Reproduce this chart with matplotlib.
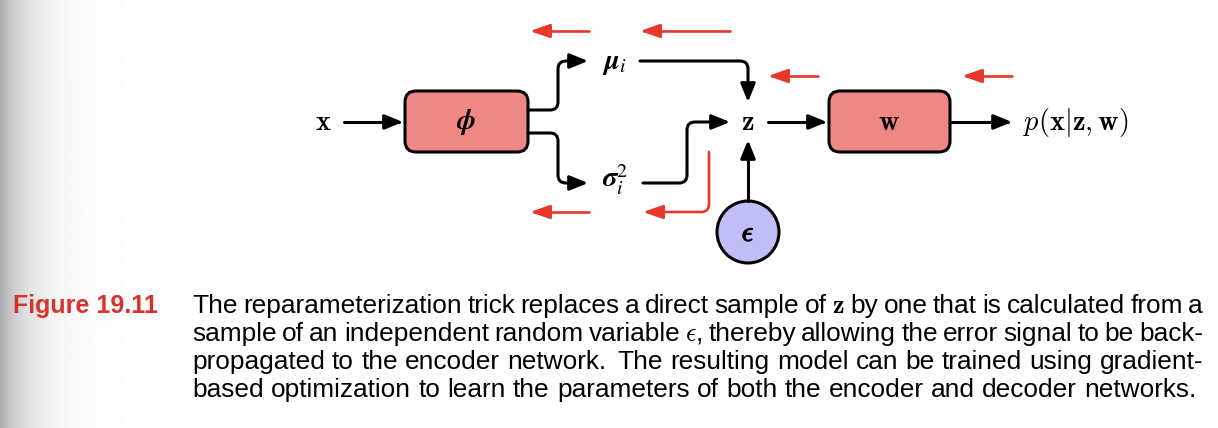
import matplotlib
matplotlib.use("Agg")
import matplotlib.pyplot as plt
import matplotlib.patheffects as pe
import numpy as np
from matplotlib.patches import FancyBboxPatch, Circle, FancyArrowPatch
from matplotlib.path import Path

W, H = 1218, 428

# labels of the diagram
input_label = r"$\mathbf{x}$"
encoder_label = r"$\mathbfit{\phi}$"
mean_label = r"$\mathbfit{\mu}_i$"
var_label = r"$\mathbfit{\sigma}_i^2$"
latent_label = r"$\mathbf{z}$"
noise_label = r"$\epsilon$"
decoder_label = r"$\mathbf{w}$"
output_label = r"$p(\mathbf{x}|\mathbf{z},\mathbf{w})$"

fig_label = "Figure 19.11"
caption_lines = [
    r"The reparameterization trick replaces a direct sample of $\mathbf{z}$ by one that is calculated from a",
    r"sample of an independent random variable $\epsilon$, thereby allowing the error signal to be back-",
    r"propagated to the encoder network.  The resulting model can be trained using gradient-",
    r"based optimization to learn the parameters of both the encoder and decoder networks.",
]

BOX_FILL = "#ef8884"
CIRCLE_FILL = "#bfbff7"
RED = "#e8382b"
CAP_RED = "#d9342b"
LW = 2.2
RED_LW = 1.9


def rounded(points, r=8):
    verts = [points[0]]
    codes = [Path.MOVETO]
    for i in range(1, len(points) - 1):
        p0, p1, p2 = (np.array(p, float) for p in points[i - 1:i + 2])
        d1 = (p1 - p0) / np.linalg.norm(p1 - p0)
        d2 = (p2 - p1) / np.linalg.norm(p2 - p1)
        verts += [p1 - d1 * r, p1, p1 + d2 * r]
        codes += [Path.LINETO, Path.CURVE3, Path.CURVE3]
    verts.append(points[-1])
    codes.append(Path.LINETO)
    return Path(verts, codes)


def arrow(ax, points, color="black", lw=LW, hl=1.1, hw=0.45, r=8):
    a = FancyArrowPatch(path=rounded(points, r),
                        arrowstyle=f"-|>,head_length={hl},head_width={hw}",
                        mutation_scale=10, color=color, lw=lw, zorder=3)
    ax.add_patch(a)


def box(ax, x0, y0, x1, y1):
    ax.add_patch(FancyBboxPatch((x0, y0), x1 - x0, y1 - y0,
                                boxstyle="round,pad=0,rounding_size=11",
                                fc=BOX_FILL, ec="black", lw=LW, zorder=2))


fig = plt.figure(figsize=(W / 100, H / 100), dpi=100)
ax = fig.add_axes([0, 0, 1, 1])

# page shadow on the left edge
xs = np.arange(130)
shade = 1 - 0.32 * np.exp(-xs / 28.0)
ax.imshow(shade[None, :], extent=[0, 130, H, 0], cmap="gray", vmin=0, vmax=1,
          aspect="auto", zorder=0, interpolation="bilinear")

ax.set_xlim(0, W)
ax.set_ylim(H, 0)
ax.axis("off")

mfs = 20.5
ax.text(323, 122, input_label, fontsize=mfs, ha="center", va="center", math_fontfamily="cm")
box(ax, 405, 91, 528, 152)
ax.text(466, 122, encoder_label, fontsize=mfs, ha="center", va="center", math_fontfamily="stix")
ax.text(614, 63, mean_label, fontsize=mfs, ha="center", va="center", math_fontfamily="stix")
ax.text(615, 180, var_label, fontsize=mfs, ha="center", va="center", math_fontfamily="stix")
ax.text(748, 122, latent_label, fontsize=mfs, ha="center", va="center", math_fontfamily="cm")
ax.add_patch(Circle((748, 232), 31, fc=CIRCLE_FILL, ec="black", lw=LW, zorder=2))
ax.text(748, 233, noise_label, fontsize=mfs, ha="center", va="center", math_fontfamily="cm",
        path_effects=[pe.withStroke(linewidth=0.9, foreground="black")])
box(ax, 829, 91, 950, 152)
ax.text(889, 122, decoder_label, fontsize=mfs, ha="center", va="center", math_fontfamily="cm")
ax.text(1023, 122, output_label, fontsize=mfs, ha="left", va="center", math_fontfamily="cm")

# forward connections
arrow(ax, [(344, 122), (403, 122)])
arrow(ax, [(528, 110), (558, 110), (558, 61), (588, 61)])
arrow(ax, [(528, 133), (558, 133), (558, 183), (588, 183)])
arrow(ax, [(640, 61), (748, 61), (748, 102)])
arrow(ax, [(643, 183), (687, 183), (687, 122), (730, 122)])
arrow(ax, [(748, 201), (748, 140)])
arrow(ax, [(768, 122), (827, 122)])
arrow(ax, [(950, 122), (1012, 122)])

# backward error signals
for pts in ([(589, 31), (530, 31)], [(730, 31), (640, 31)],
            [(818, 76), (768, 76)], [(1012, 76), (962, 76)],
            [(589, 212), (530, 212)], [(709, 152), (709, 212), (643, 212)]):
    arrow(ax, pts, color=RED, lw=RED_LW, hl=1.2, hw=0.42)

# caption
ax.text(13, 313, fig_label, fontsize=18, fontweight="bold", color=CAP_RED,
        family="Liberation Sans", ha="left", va="baseline")

cfs = 18.9
fig.canvas.draw()
renderer = fig.canvas.get_renderer()
left, right = 192, 1203
baselines = [313, 341, 369, 397]
space = 0.278 * cfs * 100 / 72
for i, line in enumerate(caption_lines):
    words = line.split()
    texts = [ax.text(0, baselines[i], w, fontsize=cfs, family="Liberation Sans",
                     math_fontfamily="cm", ha="left", va="baseline") for w in words]
    widths = [t.get_window_extent(renderer).width for t in texts]
    # sentence spacing after a full stop
    extra = [4 if w.endswith(".") else 0 for w in words[:-1]] + [0]
    if i < len(caption_lines) - 1:
        gap = (right - left - sum(widths) - sum(extra)) / (len(words) - 1)
    else:
        gap = space
    x = left
    for t, w, e in zip(texts, widths, extra):
        t.set_x(x)
        x += w + gap + e

fig.savefig("out.png", dpi=100)
